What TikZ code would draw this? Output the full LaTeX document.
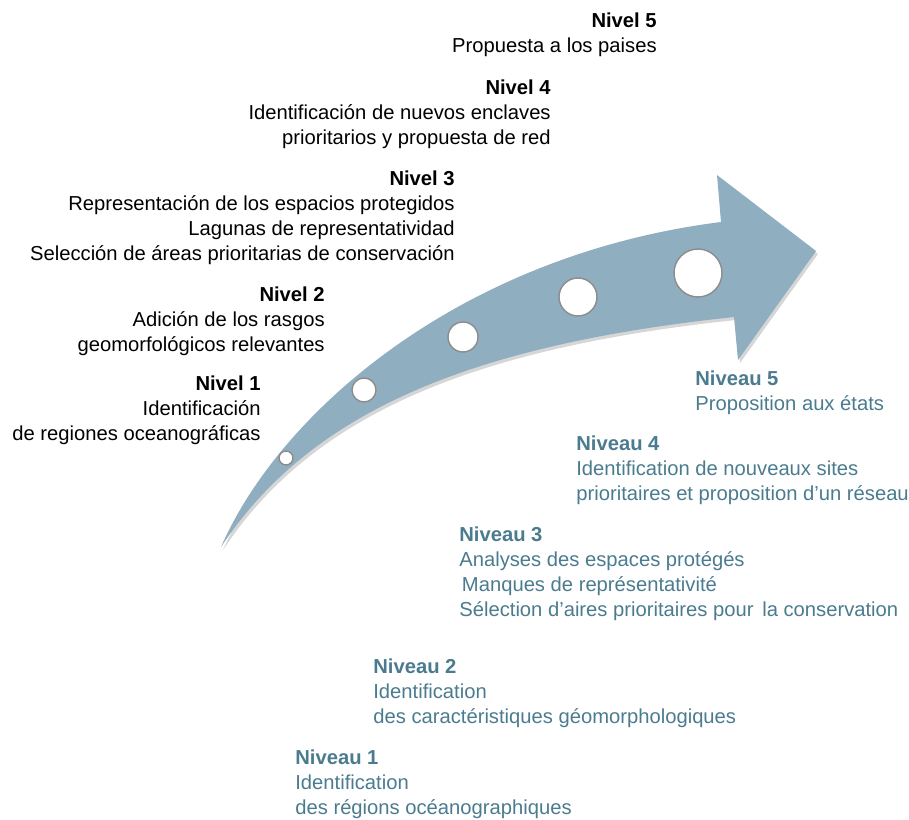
\documentclass[tikz,border=0pt]{standalone}
\usepackage{fontspec}
\setmainfont{Liberation Sans}
\usetikzlibrary{positioning}
\definecolor{arrowBlue}{HTML}{8FAEBF}
\definecolor{frBlue}{HTML}{4A7B8E}
\tikzset{
  es level/.style={anchor=north east,align=right,inner sep=0pt,
    font=\fontsize{11.5}{14.2}\selectfont,text=black},
  fr level/.style={anchor=north west,align=left,inner sep=0pt,
    font=\fontsize{11.5}{14.2}\selectfont,text=frBlue},
  hole/.style={circle,fill=white,draw=black!45,line width=0.8pt,inner sep=0pt}
}
\newcommand\arrowshape{(221,547) .. controls (280,412) and (460,255) .. (721,222)
  -- (717,175) -- (816,251) -- (738,360) -- (734,317)
  .. controls (470,345) and (310,412) .. cycle}

\begin{document}
\begin{tikzpicture}[x=0.02cm,y=-0.02cm]
  \useasboundingbox (0,0) rectangle (909,820);
  % curved arrow
  \fill[black!16,shift={(2,3)}] \arrowshape;
  \fill[arrowBlue] \arrowshape;
  \foreach \x/\y/\r [count=\i] in {286/458/7,364/390/12,463/337/15,578/297/19,698/273/24}
    \node[hole,minimum size=\r*0.04cm] (hole\i) at (\x,\y) {};
  % Spanish levels
  \node[es level] (es5) at (657,12.5) {\textbf{Nivel 5}\\Propuesta a los paises};
  \node[es level] (es4) at (551,79.5) {\textbf{Nivel 4}\\Identificación de nuevos enclaves\\
    prioritarios y propuesta de red};
  \node[es level] (es3) at (455,170.5) {\textbf{Nivel 3}\\Representación de los espacios protegidos\\
    Lagunas de representatividad\\Selección de áreas prioritarias de conservación};
  \node[es level] (es2) at (325,286.5) {\textbf{Nivel 2}\\Adición de los rasgos\\
    geomorfológicos relevantes};
  \node[es level] (es1) at (261,375.5) {\textbf{Nivel 1}\\Identificación\\
    de regiones oceanográficas};
  % French levels
  \node[fr level] (fr5) at (695,370.5) {\textbf{Niveau 5}\\Proposition aux états};
  \node[fr level] (fr4) at (576,435.5) {\textbf{Niveau 4}\\Identification de nouveaux sites\\
    prioritaires et proposition d’un réseau};
  \node[fr level] (fr3) at (459,526.5) {\textbf{Niveau 3}\\Analyses des espaces protégés\\
    \hspace*{1.5pt}Manques de représentativité\\Sélection d’aires prioritaires pour\hspace{5pt}la conservation};
  \node[fr level] (fr2) at (373,658.5) {\textbf{Niveau 2}\\Identification\\
    des caractéristiques géomorphologiques};
  \node[fr level] (fr1) at (295,749.5) {\textbf{Niveau 1}\\Identification\\
    des régions océanographiques};
\end{tikzpicture}
\end{document}
